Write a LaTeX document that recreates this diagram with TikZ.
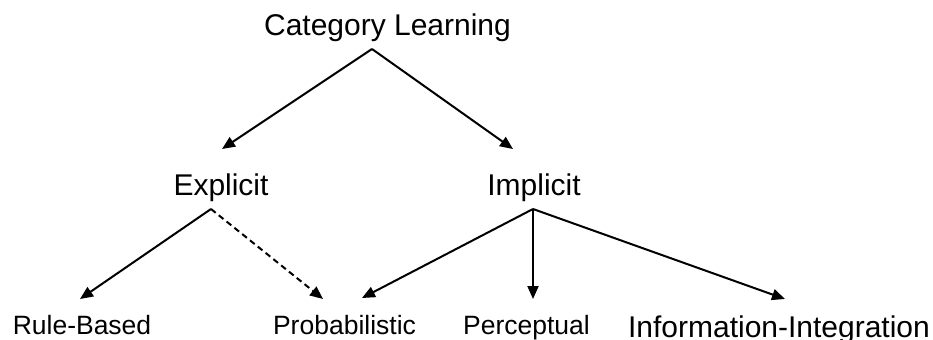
\documentclass[tikz,border=0pt]{standalone}
\usepackage{fontspec}
\setmainfont{Liberation Sans}
\usetikzlibrary{arrows.meta}
\begin{document}
\begin{tikzpicture}[x=1bp,y=-1bp,
  big/.style={anchor=base,inner sep=0pt,font=\fontsize{30.1}{36}\selectfont},
  small/.style={anchor=base,inner sep=0pt,font=\fontsize{26.6}{32}\selectfont},
  link/.style={line width=2bp,-{Triangle[length=13bp,width=11bp]}},
  dlink/.style={link,dash pattern=on 6bp off 4bp}]
\useasboundingbox (0,0) rectangle (933,339);
% nodes
\node[big] (cat) at (387.5,35) {Category Learning};
\node[big] (exp) at (221,195) {Explicit};
\node[big] (imp) at (534,195) {Implicit};
\node[small] (rule) at (82,334) {Rule-Based};
\node[small] (prob) at (344.5,334) {Probabilistic};
\node[small] (perc) at (526.5,334) {Perceptual};
\node[big] (info) at (779,337) {Information-Integration};
% connector end points
\coordinate (catA) at (372,49);
\coordinate (expA) at (211,209);
\coordinate (impA) at (533,209);
\coordinate (expT) at (222,149);
\coordinate (impT) at (513,149);
\coordinate (ruleT) at (80,299);
\coordinate (probT1) at (323,299);
\coordinate (probT2) at (362,298);
\coordinate (percT) at (533,299);
\coordinate (infoT) at (785,299);
% connectors
\draw[link] (catA) -- (expT);
\draw[link] (catA) -- (impT);
\draw[link] (expA) -- (ruleT);
\draw[dlink] (expA) -- (probT1);
\draw[link] (impA) -- (probT2);
\draw[link] (impA) -- (percT);
\draw[link] (impA) -- (infoT);
\end{tikzpicture}
\end{document}
